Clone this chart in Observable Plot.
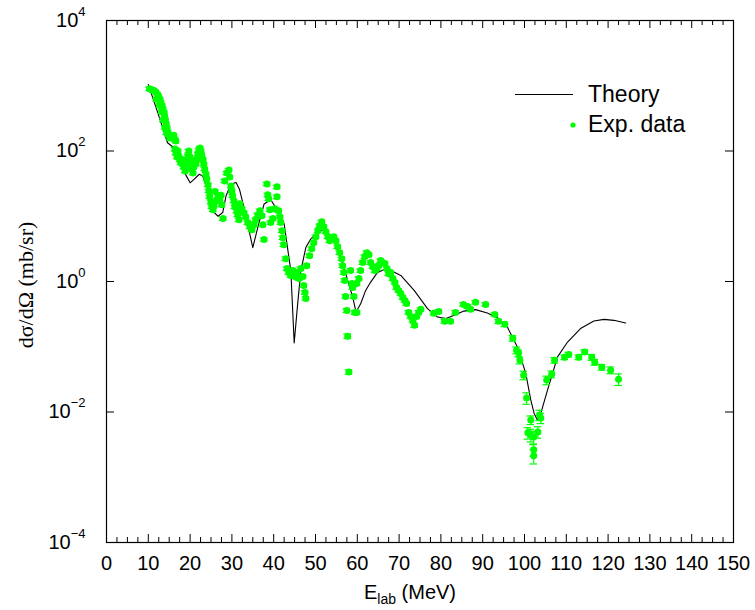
<!DOCTYPE html>
<html><head><meta charset="utf-8">
<script src="https://cdn.jsdelivr.net/npm/d3@7"></script>
<script src="https://cdn.jsdelivr.net/npm/@observablehq/plot@0.6"></script>
<style>body{margin:0;background:#fff}#chart{width:755px;height:610px}</style>
</head><body><div id="chart"></div>
<script>
// Theory curve: [E_lab (MeV), dσ/dΩ (mb/sr)]
const theoryCurve = [
[10.0,1040],[12.3,380],[14.6,134],[15.8,116],[16.2,111],[18.2,66],[18.8,45],[20.0,32.5],[21.0,37],[22.2,44],[23.0,41.5],
[24.2,26.3],[25.0,16.3],[25.8,11.4],[26.7,10.0],[27.8,11.4],[28.6,20.6],[29.8,31.3],[31.0,33],[31.8,26],[32.6,16.2],
[33.4,10.2],[34.1,6.0],[35.0,3.3],[36.3,7.2],[37.7,15.4],[39.3,17.9],[41.0,12.1],[42.5,7.6],[43.3,3.3],[44.1,1.47],
[44.9,0.114],[45.7,0.43],[46.5,1.47],[47.7,3.34],[48.9,4.5],[50.5,5.66],[51.7,6.15],[53.3,5.35],[54.5,4.23],[56.1,2.35],
[57.7,1.04],[58.9,0.576],[59.7,0.34],[60.8,0.457],[62.0,0.73],[63.2,0.98],[64.8,1.37],[66.8,1.56],[68.5,1.42],[70.4,1.24],
[73.6,0.73],[76.8,0.383],[79.2,0.285],[81.2,0.27],[83.2,0.303],[85.5,0.352],[88.3,0.371],[91.1,0.328],[93.5,0.279],
[95.9,0.2],[98.3,0.099],[100.3,0.039],[101.5,0.0153],[102.3,0.0095],[103.1,0.00755],[103.9,0.0095],[105.5,0.0217],
[107.9,0.07],[110.3,0.118],[113.4,0.19],[116.6,0.248],[119.0,0.263],[121.4,0.254],[124.2,0.231]
];
// Experimental data: [E_lab (MeV), dσ/dΩ (mb/sr), relative error]
const expData = [
[10.3,900,.06],[10.8,870,.06],[11.3,850,.06],[11.8,800,.06],[12.0,620,.06],[12.2,740,.06],[12.5,690,.06],[12.7,500,.06],
[12.8,620,.06],[13.0,560,.06],[13.2,400,.06],[13.3,500,.06],[13.5,450,.06],[13.6,300,.06],[13.8,390,.06],[13.9,340,.06],
[14.0,230,.06],[14.1,300,.06],[14.3,260,.06],[14.4,190,.06],[14.5,225,.06],[14.7,195,.06],[14.9,175,.06],[15.2,158,.06],
[15.7,169,.06],[16.1,175,.06],[16.4,152,.06],[16.6,142,.06],
[16.4,107,.06],[16.6,93,.06],[16.9,81,.06],[17.1,100,.06],[17.3,84,.06],[17.6,73,.06],[17.8,66,.06],[18.0,75,.06],
[18.3,63,.06],[18.5,57,.06],[18.8,49.5,.06],[19.0,59,.06],[19.2,70,.06],[19.5,84,.06],[19.7,100,.06],[20.0,81,.06],
[20.2,66,.06],[20.4,53,.06],[20.7,46,.06],[20.9,57,.06],[21.2,70,.06],[21.4,63,.06],[21.6,75,.06],[21.9,90,.06],
[22.1,104,.06],[22.4,111,.06],[22.6,100,.06],[22.8,87,.06],[23.1,75,.06],[23.3,63,.06],[23.5,53,.06],[23.8,44.6,.06],
[24.0,37.4,.06],[24.3,30.3,.06],[24.5,24.5,.06],[24.7,19.9,.06],[25.0,16.6,.06],[25.2,14.0,.06],[25.5,12.6,.06],
[25.7,14.5,.06],[26.0,24,.06],[26.2,17.2,.06],[26.7,20.6,.06],[27.1,17.9,.06],[27.4,21,.06],[27.6,15.0,.06],[27.9,9.2,.06],
[28.3,34.8,.06],[28.8,46,.06],[29.3,51,.06],[29.5,40,.06],[29.8,29.2,.06],[30.0,24.5,.06],[30.2,20.6,.06],[30.5,17.2,.06],
[30.7,14.0,.06],[31.2,12.1,.06],[31.4,10.5,.06],[31.7,8.85,.06],[31.9,15.5,.06],[32.4,13.0,.06],[32.9,11.3,.06],
[33.3,9.8,.06],[33.8,8.0,.06],[34.3,6.9,.06],[34.8,6.2,.06],[35.3,7.4,.06],[35.7,8.85,.06],[36.2,10.5,.06],[36.7,12.1,.06],
[37.2,10.2,.06],[37.4,7.4,.06],[37.7,4.4,.06],[38.4,31.3,.06],[38.6,21.3,.06],[38.8,18.5,.06],[39.1,12.6,.06],[39.3,8.0,.06],
[39.8,9.2,.06],[40.3,13.0,.06],[40.8,28.2,.06],[40.8,19.9,.06],[41.2,12.1,.06],[41.5,9.8,.06],[41.7,8.0,.06],[42.0,6.0,.06],
[42.2,4.7,.06],[42.4,3.67,.06],[42.9,2.24,.06],[43.2,1.58,.06],[43.6,1.37,.06],[44.1,1.24,.06],[44.6,1.47,.06],
[45.1,1.19,.06],[45.6,1.37,.06],[46.1,1.11,.06],[46.5,1.58,.06],[47.0,1.19,.06],[47.2,0.87,.06],[47.5,0.68,.06],
[47.7,0.55,.06],[47.9,1.75,.06],[48.6,2.49,.06],[49.1,3.19,.06],[49.6,3.94,.06],[50.1,4.86,.06],[50.6,6.0,.06],
[51.0,7.16,.06],[51.5,8.24,.06],[52.0,6.9,.06],[52.5,5.8,.06],[53.0,4.86,.06],[53.4,4.23,.06],[53.9,4.5,.06],
[54.4,4.86,.06],[54.9,4.23,.06],[55.3,3.42,.06],[55.8,2.77,.06],[56.3,2.24,.06],[56.5,1.75,.06],[56.8,1.37,.06],
[57.0,1.04,.06],[57.2,0.59,.06],[57.5,0.36,.07],[57.7,0.145,.08],[58.0,0.041,.08],[58.4,1.47,.06],[58.7,0.93,.06],
[58.9,0.81,.06],[59.2,0.59,.06],[59.4,0.336,.06],[59.9,0.336,.06],[59.9,0.93,.06],[60.4,1.11,.06],[60.8,1.47,.06],
[61.3,1.95,.06],[61.8,2.41,.06],[62.3,2.77,.06],[62.8,2.58,.06],[63.2,1.95,.06],[63.7,1.69,.06],[64.2,1.47,.06],
[64.7,1.58,.06],[65.1,1.75,.06],[65.6,2.09,.06],[66.1,1.95,.06],[66.6,1.88,.06],[67.1,1.58,.06],[67.5,1.32,.06],
[68.0,1.37,.06],[68.5,1.11,.06],[69.0,0.97,.06],[69.4,0.81,.06],[69.9,0.73,.06],[70.4,0.656,.06],[70.9,0.57,.06],
[71.4,0.513,.06],[71.8,0.461,.06],[72.3,0.336,.06],[72.8,0.292,.06],[73.3,0.254,.06],[73.7,0.213,.07],[74.2,0.292,.06],
[74.7,0.336,.06],[75.2,0.374,.06],[78.3,0.325,.06],[79.5,0.348,.06],[80.9,0.245,.06],[82.3,0.245,.06],[83.5,0.336,.06],
[85.4,0.446,.06],[86.4,0.415,.06],[87.1,0.374,.06],[88.3,0.48,.06],[90.7,0.446,.06],[92.9,0.313,.06],[93.8,0.245,.07],
[95.3,0.221,.08],[97.2,0.135,.1],[98.1,0.0885,.12],[98.6,0.08,.12],[98.9,0.062,.12],[99.8,0.0367,.15],[100.5,0.0164,.2],
[101.5,0.00755,.15],[100.8,0.0048,.2],[101.5,0.00446,.22],[102.2,0.00415,.22],[103.2,0.00495,.2],[102.2,0.00263,.2],
[102.2,0.00213,.25],[103.6,0.009,.18],[103.9,0.0081,.18],[105.3,0.0308,.15],[106.5,0.038,.12],[107.2,0.0622,.1],
[109.6,0.069,.08],[110.6,0.076,.08],[113.0,0.069,.08],[114.4,0.083,.08],[116.1,0.069,.1],[116.8,0.058,.1],
[118.5,0.0486,.1],[120.6,0.0438,.12],[122.5,0.0319,.2]
];
const xMajorTicks = [0,10,20,30,40,50,60,70,80,90,100,110,120,130,140,150];
const xMinorTicks = [2.5,5,7.5,12.5,15,17.5,22.5,25,27.5,32.5,35,37.5,42.5,45,47.5,52.5,55,57.5,62.5,65,67.5,72.5,75,77.5,82.5,85,87.5,92.5,95,97.5,102.5,105,107.5,112.5,115,117.5,122.5,125,127.5,132.5,135,137.5,142.5,145,147.5];
const yTicks = [1e-4,1e-2,1,1e2,1e4];
const legendLabels = ["Theory","Exp. data"];
const xLabel = ["E","lab"," (MeV)"];
const yLabel = "dσ/dΩ (mb/sr)";

const W = 755, H = 610, mL = 106, mR = 22, mT = 20, mB = 68;
const pw = W - mL - mR, ph = H - mT - mB;
const green = "#00ff00";
const theory = theoryCurve.map(([x,y]) => ({x,y}));
const exp = expData.map(([x,y,e]) => ({x,y,e}));

const svg = Plot.plot({
  width: W, height: H,
  marginLeft: mL, marginRight: mR, marginTop: mT, marginBottom: mB,
  style: {fontFamily: "'Liberation Sans', Arial, sans-serif", fontSize: "20px", color: "black", background: "white"},
  x: {domain: [0,150], ticks: xMajorTicks, tickSize: 0, tickPadding: 13, label: null, tickFormat: d => String(d)},
  y: {type: "log", domain: [1e-4,1e4], ticks: yTicks, tickSize: 0, tickPadding: 21, label: null,
      tickFormat: d => "10^" + Math.round(Math.log10(d))},
  marks: [
    Plot.ruleX(xMajorTicks, {x: d => d, insetTop: ph - 8, stroke: "black"}),
    Plot.ruleX(xMajorTicks, {x: d => d, insetBottom: ph - 8, stroke: "black"}),
    Plot.ruleX(xMinorTicks, {x: d => d, insetTop: ph - 5, stroke: "black"}),
    Plot.ruleX(xMinorTicks, {x: d => d, insetBottom: ph - 5, stroke: "black"}),
    Plot.ruleY(yTicks, {y: d => d, insetRight: pw - 8, stroke: "black"}),
    Plot.ruleY(yTicks, {y: d => d, insetLeft: pw - 8, stroke: "black"}),
    Plot.line(theory, {x: "x", y: "y", stroke: "black", strokeWidth: 1.1}),
    Plot.ruleX(exp, {x: "x", y1: d => d.y * (1 - d.e), y2: d => d.y * (1 + d.e), stroke: green, strokeWidth: 1.2}),
    Plot.ruleY(exp, {y: d => d.y * (1 - d.e), x1: d => d.x - 0.9, x2: d => d.x + 0.9, stroke: green, strokeWidth: 1.2}),
    Plot.ruleY(exp, {y: d => d.y * (1 + d.e), x1: d => d.x - 0.9, x2: d => d.x + 0.9, stroke: green, strokeWidth: 1.2}),
    Plot.dot(exp, {x: "x", y: "y", r: 3.5, fill: green, stroke: "none"}),
    Plot.frame({stroke: "black", strokeWidth: 1.2})
  ]
});
document.getElementById("chart").appendChild(svg);

const s = d3.select(svg);
// superscript y tick labels
s.selectAll('g[aria-label="y-axis tick label"] text').each(function() {
  const t = d3.select(this);
  const [base, ex] = t.text().split("^");
  t.text("");
  t.append("tspan").text(base);
  t.append("tspan").attr("dy", -11).attr("font-size", 13).text(ex.replace("-", "\u2212"));
});
// x-axis title with subscript
const xt = s.append("text").attr("x", 364).attr("y", 599).attr("text-anchor", "start")
  .style("font-size", "20px").attr("fill", "black");
xt.append("tspan").text(xLabel[0]);
xt.append("tspan").attr("dy", 5).style("font-size", "14px").text(xLabel[1]);
xt.append("tspan").attr("dy", -5).text(xLabel[2]);
// y-axis title
s.append("text").attr("transform", "translate(33,285) rotate(-90)").attr("text-anchor", "middle")
  .style("font-family", "'Liberation Serif', 'DejaVu Serif', serif").style("font-size", "22px").attr("fill", "black").text(yLabel);
// legend
const lg = s.append("g").attr("text-anchor", "start");
lg.append("line").attr("x1", 515).attr("x2", 573).attr("y1", 94.5).attr("y2", 94.5).attr("stroke", "black").attr("stroke-width", 1.1);
lg.append("text").attr("x", 588).attr("y", 102).style("font-size", "23px").attr("fill", "black").text(legendLabels[0]);
lg.append("circle").attr("cx", 573).attr("cy", 125).attr("r", 2.6).attr("fill", green);
lg.append("text").attr("x", 588).attr("y", 132).style("font-size", "23px").attr("fill", "black").text(legendLabels[1]);
</script></body></html>
